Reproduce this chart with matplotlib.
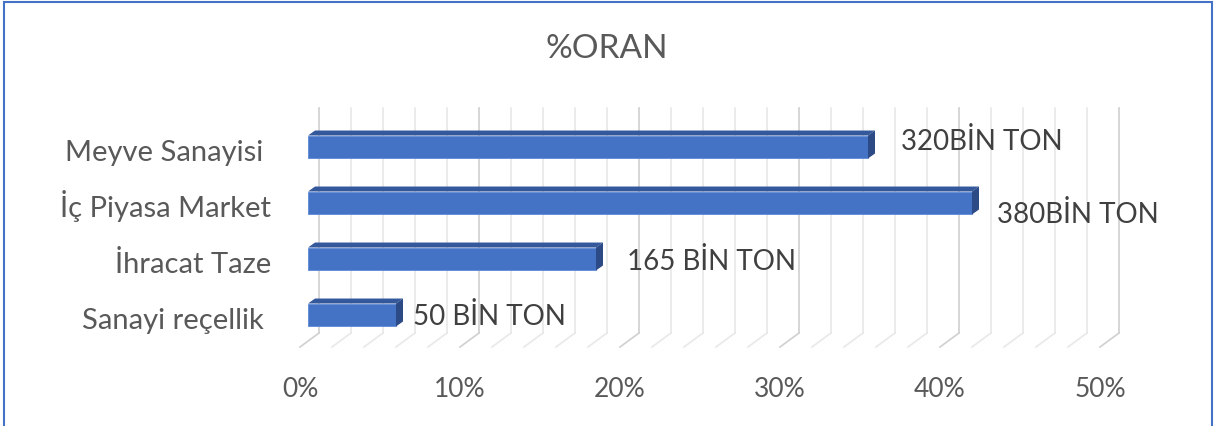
import matplotlib
matplotlib.use("Agg")
import matplotlib.pyplot as plt
import numpy as np
from matplotlib.lines import Line2D
from matplotlib.patches import Polygon, Rectangle
from matplotlib.transforms import IdentityTransform, ScaledTranslation, blended_transform_factory

# data (bottom to top, as drawn)
categories = ["Sanayi reçellik ", "İhracat Taze", "İç Piyasa Market", "Meyve Sanayisi "]
shares = [5.5, 18.0, 41.5, 35.0]  # % share of total
value_labels = ["50 BİN TON", "165 BİN TON", "380BİN TON", "320BİN TON"]
x_ticks = [0, 10, 20, 30, 40, 50]
title = "%ORAN"

# hand-placed data labels in the original: pixel nudge (right, down) from bar end
label_nudge = [(17, 10), (31, 11), (25, 20), (33, 3)]

FRONT = "#4472C4"
TOP = "#34589C"
SIDE = "#2C4A85"
EDGE = "#5F8AD6"
GRID_MAJOR = "#D0D0D0"
GRID_MINOR = "#E8E8E8"
TEXT = "#595959"
LABEL = "#404040"

plt.rcParams["font.family"] = ["Lato", "DejaVu Sans"]

W, H = 1214, 426
fig = plt.figure(figsize=(W / 100, H / 100), dpi=100)

# axes covers the bar depth plane: 0% at x=308px, 50% at x=1108px
ax = fig.add_axes([308 / W, 86 / H, 800 / W, 225 / H])
ax.set_xlim(0, 50)
ax.set_ylim(-25 / 56, 3 + 32 / 56)
ax.axis("off")

y = np.arange(len(categories))


def shift(dx, dy):
    """pixel offset, dy positive = down"""
    return ScaledTranslation(dx / 100, -dy / 100, fig.dpi_scale_trans)


x_axes = blended_transform_factory(ax.transData, ax.transAxes)
y_axes = blended_transform_factory(ax.transAxes, ax.transData)

# back wall gridlines + floor diagonals (3D look)
for gx in np.arange(0, 51, 2):
    c = GRID_MAJOR if gx % 10 == 0 else GRID_MINOR
    ax.plot([gx, gx], [0, 1], transform=x_axes + shift(11, -7),
            color=c, lw=1.2, clip_on=False, zorder=0)
    xb, yb = x_axes.transform((gx, 0))
    ax.add_line(Line2D([xb + 11, xb - 8], [yb + 7, yb - 7], transform=IdentityTransform(),
                       color=c, lw=1.2, clip_on=False, zorder=0))

# bars with top and side faces
h = 0.41
inv = ax.transData.inverted()
p0 = inv.transform((0, 0))
p1 = inv.transform((7, 5))
ddx, ddy = p1 - p0

ax.barh(y, shares, height=h, color=FRONT, edgecolor=EDGE, linewidth=0.6, zorder=3)
for yi, v in zip(y, shares):
    top = Polygon([(0, yi + h / 2), (v, yi + h / 2), (v + ddx, yi + h / 2 + ddy),
                   (ddx, yi + h / 2 + ddy)], closed=True, facecolor=TOP, edgecolor="none", zorder=3)
    side = Polygon([(v, yi - h / 2), (v, yi + h / 2), (v + ddx, yi + h / 2 + ddy),
                    (v + ddx, yi - h / 2 + ddy)], closed=True, facecolor=SIDE, edgecolor="none", zorder=3)
    ax.add_patch(top)
    ax.add_patch(side)

# data labels
for yi, v, lab, (nx, ny) in zip(y, shares, value_labels, label_nudge):
    ax.annotate(lab, xy=(v, yi), xytext=(nx, -ny), textcoords="offset pixels",
                ha="left", va="baseline", fontsize=20, color=LABEL, annotation_clip=False)

# category labels (front plane)
for yi, cat in zip(y, categories):
    ax.text(0, yi, cat, transform=y_axes + shift(-37, 14), ha="right", va="baseline",
            fontsize=21, color=TEXT)

# x tick labels (front plane)
for t in x_ticks:
    ax.text(t, 0, f"{t}%", transform=x_axes + shift(-8, 57), ha="center", va="baseline",
            fontsize=19, color=TEXT)

fig.text(0.5, 1 - 58 / H, title, ha="center", va="baseline", fontsize=24, color=TEXT)

# chart border
border = Rectangle((4 / W, -0.05), (1212 - 4) / W, 1.05 - 2 / H, transform=fig.transFigure,
                   fill=False, edgecolor="#4472C4", linewidth=1.5, clip_on=False)
fig.patches.append(border)

fig.savefig("out.png", dpi=100)
